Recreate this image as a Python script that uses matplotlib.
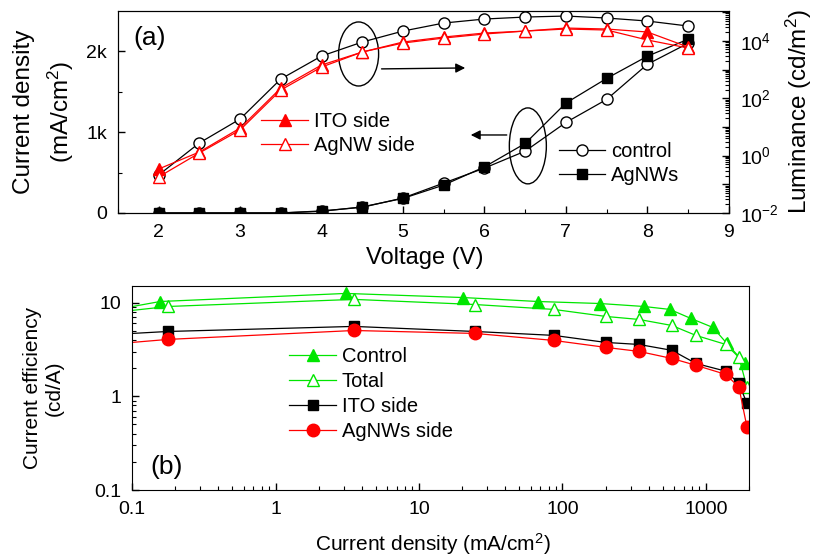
import numpy as np
import matplotlib
matplotlib.use('Agg')
import matplotlib.pyplot as plt
from matplotlib.patches import Ellipse
from matplotlib.ticker import FixedLocator, MultipleLocator, LogLocator, FuncFormatter, NullFormatter

plt.rcParams['font.family'] = ['Liberation Sans', 'DejaVu Sans']
plt.rcParams['mathtext.fontset'] = 'custom'
plt.rcParams['mathtext.rm'] = 'Liberation Sans'
plt.rcParams['mathtext.it'] = 'Liberation Sans:italic'

# --- (a) J-V-L data ---
voltage = [2.0, 2.5, 3.0, 3.5, 4.0, 4.5, 5.0, 5.5, 6.0, 6.5, 7.0, 7.5, 8.0, 8.5]
j_control = [0, 0, 0, 0, 25, 70, 185, 370, 555, 765, 1120, 1405, 1840, 2100]
j_agnws = [0, 0, 0, 0, 20, 75, 180, 345, 570, 860, 1360, 1665, 1940, 2150]
lum_control = [0.21, 2.75, 18.8, 467, 2950, 9080, 21900, 41700, 57500, 67500, 73100, 62300, 49000, 32800]
lum_ito = [0.34, 1.33, 9.1, 226, 1435, 4070, 9080, 13550, 18700, 21900, 27900, 25800, 20300, 6080]
lum_agnw = [0.18, 1.23, 7.8, 193, 1220, 4070, 8380, 12500, 17300, 21900, 25800, 23800, 10700, 5610]

# --- (b) efficiency data ---
jd_control = [0.032, 0.157, 3.1, 20.3, 67.5, 182, 370, 561, 786, 1119, 1400, 1870]
ce_control = [6.6, 10.25, 12.5, 11.3, 10.25, 9.76, 9.07, 8.44, 6.76, 5.42, 3.66, 2.24]
jd_device = [0.032, 0.178, 3.52, 24.5, 87, 201, 341, 579, 851, 1377, 1698, 1932]
ce_total = [6.8, 9.07, 10.8, 9.52, 8.44, 7.1, 6.6, 5.69, 4.46, 3.57, 2.60, 1.25]
ce_ito = [4.25, 4.91, 5.56, 4.91, 4.46, 3.75, 3.57, 3.09, 2.24, 1.85, 1.37, 0.84]
ce_agnws = [3.24, 4.04, 5.03, 4.68, 3.94, 3.32, 3.01, 2.53, 2.14, 1.71, 1.25, 0.47]

green = '#00e600'
red = '#ff0000'

fig = plt.figure(figsize=(8.13, 5.56), dpi=100)
ax1 = fig.add_axes([0.145, 0.617, 0.7515, 0.3633])
ax2 = ax1.twinx()
axb = fig.add_axes([0.1624, 0.1187, 0.759, 0.3669])

# --- panel (a) ---
ax1.plot(voltage, j_control, '-o', color='k', mfc='white', mec='k', ms=8, lw=0.9, label='control')
ax1.plot(voltage, j_agnws, '-s', color='k', mfc='k', mec='k', ms=7, lw=0.9, label='AgNWs')
ax2.plot(voltage, lum_control, '-o', color='k', mfc='white', mec='k', ms=8, lw=0.9)
ax2.plot(voltage, lum_ito, '-^', color=red, mfc=red, mec=red, ms=9, lw=0.9, label='ITO side')
ax2.plot(voltage, lum_agnw, '-^', color=red, mfc='white', mec=red, ms=9, lw=0.9, label='AgNW side')

ax1.set_xlim(1.5, 9)
ax1.set_ylim(0, 2500)
ax2.set_yscale('log')
ax2.set_ylim(1e-2, 1.1e5)

ax1.xaxis.set_major_locator(MultipleLocator(1))
ax1.xaxis.set_minor_locator(MultipleLocator(0.5))
ax1.yaxis.set_major_locator(FixedLocator([0, 1000, 2000]))
ax1.yaxis.set_minor_locator(FixedLocator([500, 1500]))
ax1.yaxis.set_major_formatter(FuncFormatter(lambda v, p: '0' if v == 0 else '%dk' % (v / 1000)))

ax2.yaxis.set_major_locator(LogLocator(base=10, numticks=20))
ax2.yaxis.set_minor_locator(LogLocator(base=10, subs=np.arange(2, 10), numticks=20))
ax2.yaxis.set_major_formatter(FuncFormatter(
    lambda v, p: r'$10^{%d}$' % round(np.log10(v)) if round(np.log10(v)) % 2 == 0 else ''))
ax2.yaxis.set_minor_formatter(NullFormatter())

for a in (ax1, ax2, axb):
    a.tick_params(which='both', direction='in', labelsize=14, top=False, pad=8)
    a.tick_params(which='major', length=5, width=1)
    a.tick_params(which='minor', length=3, width=0.8)
ax1.tick_params(right=False)
ax2.tick_params(left=False)
axb.tick_params(which='both', right=False)

ax1.set_xlabel('Voltage (V)', fontsize=17)
ax1.xaxis.set_label_coords(0.502, -0.17)
ax1.set_ylabel('Current density\n(mA/cm$^2$)', fontsize=17.5, linespacing=1.45)
ax1.yaxis.set_label_coords(-0.069, 0.5)
ax2.set_ylabel('Luminance (cd/m$^2$)', fontsize=17.5)
ax2.yaxis.set_label_coords(1.09, 0.5)

ax1.text(0.025, 0.83, '(a)', transform=ax1.transAxes, fontsize=19)

ax1.add_patch(Ellipse((0.394, 0.787), 0.0655, 0.317, transform=ax1.transAxes,
                      fill=False, ec='k', lw=1))
ax1.add_patch(Ellipse((0.671, 0.332), 0.0606, 0.376, transform=ax1.transAxes,
                      fill=False, ec='k', lw=1))
ax1.annotate('', xy=(0.573, 0.718), xytext=(0.427, 0.713), xycoords='axes fraction',
             arrowprops=dict(arrowstyle='-|>', color='k', lw=1, mutation_scale=14))
ax1.annotate('', xy=(0.573, 0.386), xytext=(0.641, 0.386), xycoords='axes fraction',
             arrowprops=dict(arrowstyle='-|>', color='k', lw=1, mutation_scale=14))

leg1 = ax2.legend(loc='upper left', bbox_to_anchor=(0.235, 0.5), frameon=False, fontsize=14.5,
                  handlelength=2.3, handletextpad=0.3, labelspacing=0.25, borderaxespad=0, borderpad=0)
leg2 = ax2.legend(*ax1.get_legend_handles_labels(), loc='upper left', bbox_to_anchor=(0.722, 0.35),
                  frameon=False, fontsize=14.5, handlelength=2.3, handletextpad=0.3,
                  labelspacing=0.25, borderaxespad=0, borderpad=0)
ax2.add_artist(leg1)

# --- panel (b) ---
axb.plot(jd_control, ce_control, '-^', color=green, mfc=green, mec=green, ms=9, lw=0.9, label='Control')
axb.plot(jd_device, ce_total, '-^', color=green, mfc='white', mec=green, ms=9, lw=0.9, label='Total')
axb.plot(jd_device, ce_ito, '-s', color='k', mfc='k', mec='k', ms=7, lw=0.9, label='ITO side')
axb.plot(jd_device, ce_agnws, '-o', color=red, mfc=red, mec=red, ms=9, lw=0.9, label='AgNWs side')

axb.set_xscale('log')
axb.set_yscale('log')
axb.set_xlim(0.1, 2000)
axb.set_ylim(0.1, 15)
axb.xaxis.set_major_formatter(FuncFormatter(lambda v, p: ('%g' % v)))
axb.yaxis.set_major_formatter(FuncFormatter(lambda v, p: ('%g' % v)))
axb.xaxis.set_minor_formatter(NullFormatter())
axb.yaxis.set_minor_formatter(NullFormatter())

axb.set_xlabel('Current density (mA/cm$^2$)', fontsize=15)
axb.xaxis.set_label_coords(0.488, -0.2)
axb.set_ylabel('Current efficiency\n(cd/A)', fontsize=15, linespacing=1.2)
axb.yaxis.set_label_coords(-0.11, 0.5)
axb.text(0.03, 0.08, '(b)', transform=axb.transAxes, fontsize=19)

axb.legend(loc='upper left', bbox_to_anchor=(0.255, 0.7), frameon=False, fontsize=14.5,
           handlelength=2.3, handletextpad=0.3, labelspacing=0.3, borderaxespad=0, borderpad=0)

fig.savefig('out.png', dpi=100)
